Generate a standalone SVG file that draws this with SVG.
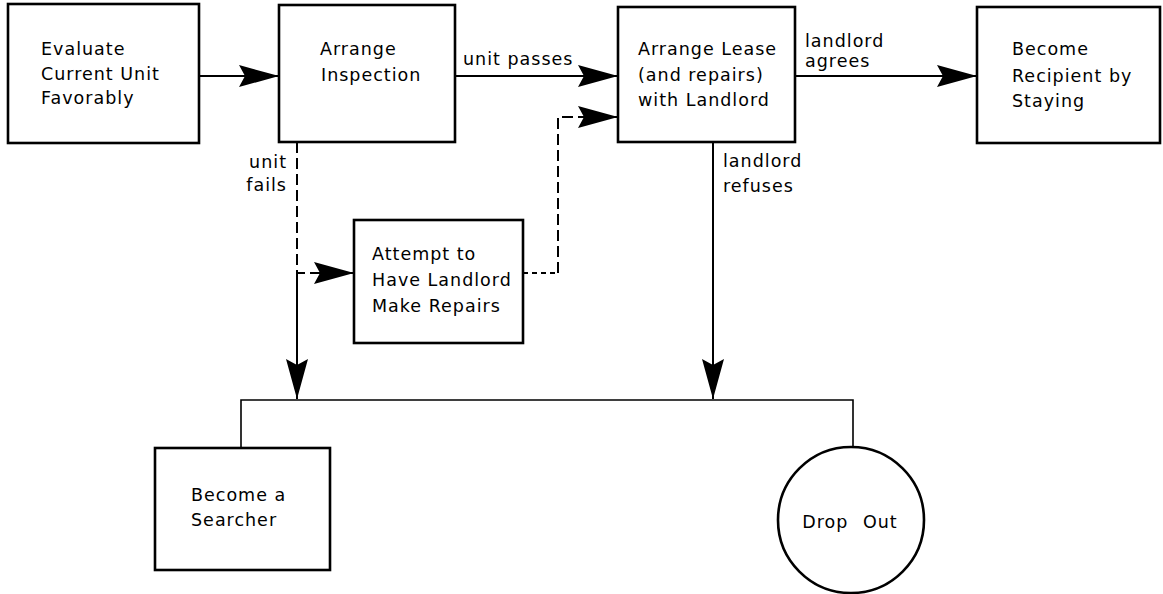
<svg xmlns="http://www.w3.org/2000/svg" width="1163" height="594" viewBox="0 0 1163 594">
  <style>
    .box { fill: #fff; stroke: #000; stroke-width: 2.6; }
    .ln { fill: none; stroke: #000; stroke-width: 2; }
    .thin { fill: none; stroke: #000; stroke-width: 1.6; }
    .dash { fill: none; stroke: #000; stroke-width: 2; stroke-dasharray: 11 5; }
    .dot { fill: none; stroke: #000; stroke-width: 2; stroke-dasharray: 5 4; }
    text { font-family: "DejaVu Sans", "Liberation Sans", sans-serif; font-size: 17.5px; letter-spacing: 1px; fill: #000; }
  </style>
  <defs>
    <marker id="head" viewBox="0 0 40 24" refX="40" refY="12" markerWidth="40" markerHeight="24" markerUnits="userSpaceOnUse" orient="auto">
      <path d="M0,1 L40,12 L0,23 L6,12 Z" fill="#000"/>
    </marker>
  </defs>

  <g id="connectors">
    <path class="ln" d="M199,76 H279" marker-end="url(#head)"/>
    <path class="ln" d="M455,76 H618" marker-end="url(#head)"/>
    <path class="ln" d="M795,76 H977" marker-end="url(#head)"/>
    <path class="dash" d="M297,142 V273 H318"/>
    <path class="ln" d="M318,273 H354" marker-end="url(#head)"/>
    <path class="ln" d="M297,273 V399" marker-end="url(#head)"/>
    <path class="dot" d="M523,273 H558"/>
    <path class="dash" d="M558,273 V117 H580"/>
    <path class="ln" d="M578,117 H618" marker-end="url(#head)"/>
    <path class="ln" d="M713,142 V399" marker-end="url(#head)"/>
    <path class="thin" d="M241,448 V400 H853 V447"/>
    <text x="463" y="65">unit passes</text>
    <text x="805" y="47">landlord</text>
    <text x="805" y="67">agrees</text>
    <text x="287" y="168" text-anchor="end">unit</text>
    <text x="287" y="191" text-anchor="end">fails</text>
    <text x="723" y="167">landlord</text>
    <text x="723" y="192">refuses</text>
  </g>

  <g id="evaluate">
    <rect class="box" x="8" y="4" width="191" height="139"/>
    <text x="41" y="55">Evaluate</text>
    <text x="41" y="80">Current Unit</text>
    <text x="41" y="104">Favorably</text>
  </g>

  <g id="inspection">
    <rect class="box" x="279" y="5" width="176" height="137"/>
    <text x="320" y="55">Arrange</text>
    <text x="321" y="81">Inspection</text>
  </g>

  <g id="lease">
    <rect class="box" x="618" y="7" width="177" height="135"/>
    <text x="638" y="55">Arrange Lease</text>
    <text x="638" y="81">(and repairs)</text>
    <text x="638" y="106">with Landlord</text>
  </g>

  <g id="recipient">
    <rect class="box" x="977" y="7" width="183" height="136"/>
    <text x="1012" y="55">Become</text>
    <text x="1012" y="82">Recipient by</text>
    <text x="1012" y="107">Staying</text>
  </g>

  <g id="repairs">
    <rect class="box" x="354" y="220" width="169" height="123"/>
    <text x="372" y="260">Attempt to</text>
    <text x="372" y="286">Have Landlord</text>
    <text x="372" y="312">Make Repairs</text>
  </g>

  <g id="searcher">
    <rect class="box" x="155" y="448" width="175" height="122"/>
    <text x="191" y="501">Become a</text>
    <text x="191" y="526">Searcher</text>
  </g>

  <g id="dropout">
    <circle class="box" cx="851" cy="520" r="73"/>
    <text x="850" y="528" text-anchor="middle" word-spacing="8">Drop Out</text>
  </g>
</svg>
